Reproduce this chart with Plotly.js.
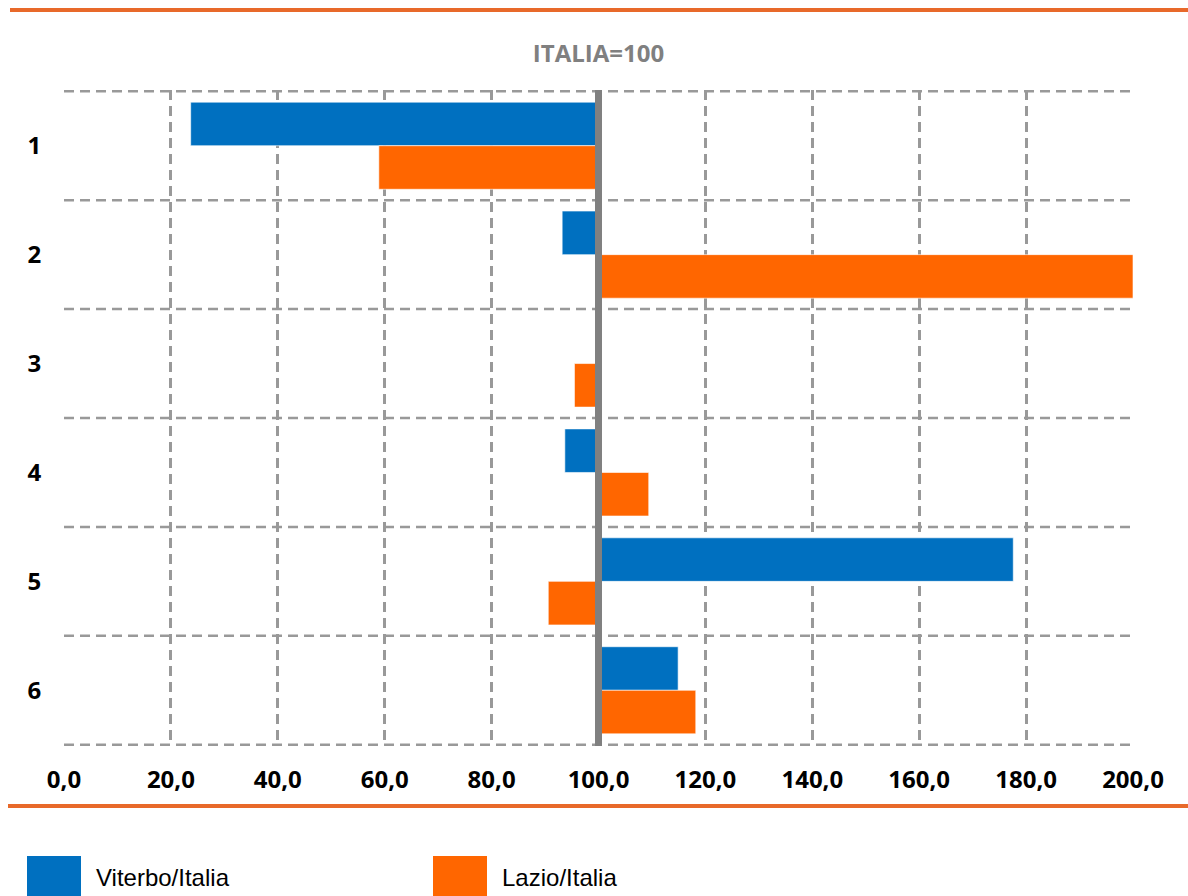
<!DOCTYPE html>
<html>
<head>
<meta charset="utf-8">
<script src="https://cdn.plot.ly/plotly-3.0.1.min.js"></script>
<style>
  html, body { margin: 0; padding: 0; background: #ffffff; }
  #chart { width: 1188px; height: 896px; }
</style>
</head>
<body>
<div id="chart"></div>
<script>
// ---- data ----
const categories = ["1", "2", "3", "4", "5", "6"];
const seriesNames = ["Viterbo/Italia", "Lazio/Italia"];
const viterbo = [23.7, 93.2, null, 93.7, 177.6, 114.9];
const lazio = [58.9, 200.0, 95.5, 109.4, 90.6, 118.2];
const baseline = 100;
const xTickVals = [0, 20, 40, 60, 80, 100, 120, 140, 160, 180, 200];
const titleText = "ITALIA=100";

// ---- styles ----
const blue = "#0070C0";
const orange = "#FF6600";
const rule = "#E8692A";
const gridColor = "#999999";
const gridDash = "10px,6px";
const tickFont = { family: "'Open Sans', sans-serif", size: 24, color: "#000000", weight: "bold" };

function barTrace(name, values, color) {
  return {
    type: "bar",
    orientation: "h",
    name: name,
    y: categories,
    x: values.map(v => (v === null ? null : v - baseline)),
    base: baseline,
    customdata: values,
    hovertemplate: name + ": %{customdata:.1f}<extra></extra>",
    marker: { color: color, line: { color: "rgba(255,255,255,0.6)", width: 1 } },
    showlegend: false
  };
}

const data = [
  barTrace(seriesNames[0], viterbo, blue),
  barTrace(seriesNames[1], lazio, orange)
];

const shapes = [];
// horizontal dashed separators between categories
for (let i = 0; i <= categories.length; i++) {
  shapes.push({
    type: "line", xref: "paper", yref: "y",
    x0: 0, x1: 1, y0: i - 0.5, y1: i - 0.5,
    line: { color: gridColor, width: 2.5, dash: gridDash },
    layer: "below"
  });
}
// baseline at 100
shapes.push({
  type: "line", xref: "x", yref: "paper",
  x0: baseline, x1: baseline, y0: 0, y1: 1,
  line: { color: "#808080", width: 7 }
});
// top & bottom orange rules
shapes.push({
  type: "line", xref: "paper", yref: "paper",
  xsizemode: "pixel", xanchor: 0, ysizemode: "pixel", yanchor: 0,
  x0: -54, x1: 1124, y0: 736, y1: 736,
  line: { color: rule, width: 4 }
});
shapes.push({
  type: "line", xref: "paper", yref: "paper",
  xsizemode: "pixel", xanchor: 0, ysizemode: "pixel", yanchor: 0,
  x0: -56, x1: 1124, y0: -60, y1: -60,
  line: { color: rule, width: 4 }
});
// legend swatches
const legendX = [27, 433];
const legendColors = [blue, orange];
const annotations = [];
for (let i = 0; i < seriesNames.length; i++) {
  shapes.push({
    type: "rect", xref: "paper", yref: "paper",
    xsizemode: "pixel", xanchor: 0, ysizemode: "pixel", yanchor: 0,
    x0: legendX[i] - 64, x1: legendX[i] + 54 - 64,
    y0: -152, y1: -110,
    fillcolor: legendColors[i], line: { width: 0 }
  });
  annotations.push({
    xref: "paper", yref: "paper",
    x: (legendX[i] + 67 - 64) / 1069, y: (746 - 877) / 656,
    xanchor: "left", yanchor: "middle",
    text: seriesNames[i], showarrow: false,
    font: { family: "'Liberation Sans', Arial, sans-serif", size: 24, color: "#000000" }
  });
}

const layout = {
  width: 1188, height: 896,
  margin: { l: 64, r: 55, t: 90, b: 150, pad: 0 },
  paper_bgcolor: "#ffffff", plot_bgcolor: "#ffffff",
  separators: ",.",
  barmode: "group", bargap: 0.2, bargroupgap: 0,
  title: {
    text: "<b>" + titleText + "</b>",
    x: 0.5, xref: "paper", xanchor: "center",
    y: 1 - 54 / 896, yref: "container", yanchor: "middle",
    font: { family: "'Open Sans', sans-serif", size: 24, color: "#808080" }
  },
  xaxis: {
    range: [0, 200], tickmode: "array", tickvals: xTickVals,
    tickformat: ".1f",
    showgrid: true, gridcolor: gridColor, gridwidth: 2.5, griddash: gridDash,
    zeroline: false, showline: false,
    ticks: "outside", ticklen: 12, tickcolor: "rgba(0,0,0,0)",
    tickfont: tickFont,
    fixedrange: true
  },
  yaxis: {
    type: "category", categoryorder: "array", categoryarray: categories,
    autorange: "reversed",
    showgrid: false, zeroline: false, showline: false,
    ticks: "outside", ticklen: 17, tickcolor: "rgba(0,0,0,0)",
    tickfont: tickFont,
    fixedrange: true
  },
  shapes: shapes,
  annotations: annotations,
  showlegend: false
};

Plotly.newPlot("chart", data, layout, { displayModeBar: false });
</script>
</body>
</html>
